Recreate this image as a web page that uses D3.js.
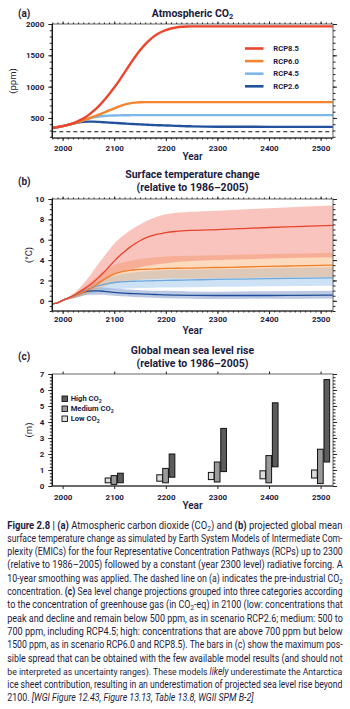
<!DOCTYPE html>
<html>
<head>
<meta charset="utf-8">
<script src="https://cdn.jsdelivr.net/npm/d3@7"></script>
<style>
  body { margin: 0; background: #fff; }
  svg { display: block; font-family: Roboto, "Open Sans", sans-serif; }
</style>
</head>
<body>
<svg id="chart" width="350" height="709"></svg>
<script>
// ---- (a) atmospheric CO2, ppm
const co2Years = [1980,1990,2000,2010,2020,2030,2040,2050,2060,2070,2080,2090,2100,2110,2120,2130,2140,2150,2160,2170,2180,2190,2200,2210,2220,2230,2240,2250,2300,2400,2524];
const co2Rcp85 = [339,354,369,390,415,449,490,545,612,690,780,880,985,1100,1225,1350,1470,1580,1675,1755,1820,1868,1902,1928,1945,1955,1960,1962,1962,1962,1962];
const co2Rcp60 = [339,354,369,389,410,433,460,490,520,552,586,620,652,685,712,732,745,751,752,752,752,752,752,752,752,752,752,752,752,752,752];
const co2Rcp45 = [339,354,369,389,411,435,461,487,510,524,532,537,540,542,543,544,545,545,545,545,545,545,545,545,545,545,545,545,545,545,545];
const co2Rcp26 = [339,354,369,389,409,425,437,442,441,437,432,426,421,416,411,406,402,398,394,390,386,383,380,377,374,371,368,366,360,358,358];
const preIndustrial = 280;

// ---- (b) surface temperature change, degC
const tYears = [1980,1990,2000,2010,2020,2030,2040,2050,2060,2070,2080,2090,2100,2110,2120,2130,2140,2150,2160,2170,2180,2190,2200,2220,2250,2300,2350,2400,2450,2524];
const tRcp85 = [-0.3,-0.2,0.05,0.25,0.5,0.8,1.1,1.45,1.85,2.3,2.8,3.35,3.9,4.4,4.85,5.25,5.6,5.9,6.15,6.35,6.5,6.6,6.7,6.82,6.92,7.0,7.1,7.2,7.28,7.4];
const tRcp60 = [-0.3,-0.2,0.05,0.25,0.45,0.65,0.85,1.1,1.4,1.75,2.1,2.4,2.65,2.8,2.92,3.0,3.05,3.08,3.1,3.12,3.14,3.16,3.18,3.2,3.22,3.27,3.32,3.38,3.43,3.5];
const tRcp45 = [-0.3,-0.2,0.05,0.25,0.45,0.7,0.95,1.15,1.35,1.5,1.62,1.72,1.8,1.85,1.88,1.9,1.92,1.93,1.95,1.96,1.98,1.99,2.0,2.02,2.05,2.1,2.14,2.18,2.21,2.25];
const tRcp26 = [-0.3,-0.2,0.05,0.25,0.45,0.65,0.85,0.95,0.98,0.97,0.93,0.88,0.82,0.78,0.75,0.72,0.7,0.68,0.66,0.64,0.62,0.6,0.58,0.56,0.54,0.52,0.52,0.52,0.53,0.55];

const bandYears = [2000,2025,2050,2075,2100,2125,2150,2175,2200,2250,2300,2400,2524];
const band85Lo = [0.0,0.35,0.95,1.8,2.55,3.0,3.3,3.55,3.7,3.9,4.0,4.15,4.27];
const band85Hi = [0.1,0.9,2.3,4.0,5.6,6.7,7.5,8.1,8.5,8.75,8.85,9.1,9.35];
const band60Lo = [0.0,0.3,0.75,1.3,1.75,1.95,2.1,2.15,2.2,2.2,2.22,2.28,2.35];
const band60Hi = [0.1,0.75,1.7,2.7,3.5,3.85,4.1,4.25,4.35,4.42,4.47,4.6,4.73];
const band45Lo = [0.0,0.3,0.65,0.95,1.1,1.2,1.25,1.28,1.3,1.33,1.37,1.42,1.47];
const band45Hi = [0.1,0.7,1.5,2.1,2.45,2.7,2.85,2.95,3.0,3.05,3.1,3.2,3.3];
const band26Lo = [0.0,0.3,0.6,0.6,0.5,0.42,0.35,0.3,0.26,0.2,0.17,0.2,0.23];
const band26Hi = [0.1,0.7,1.25,1.3,1.2,1.12,1.05,1.0,0.98,0.92,0.9,0.95,1.0];

// ---- (c) sea level rise ranges, m
const slrYears = [2100,2200,2300,2400,2500];
const lowMin  = [0.2,0.3,0.4,0.45,0.5];
const lowMax  = [0.5,0.7,0.85,0.95,1.0];
const medMin  = [0.1,0.2,0.25,0.2,0.15];
const medMax  = [0.65,1.1,1.5,1.9,2.3];
const highMin = [0.2,0.55,0.9,1.2,1.5];
const highMax = [0.8,2.0,3.6,5.2,6.65];

const rcpNames = ["RCP8.5","RCP6.0","RCP4.5","RCP2.6"];
const rcpColors = ["#ec452d","#f28530","#7db6e8","#22519e"];
const yearTicks = [2000,2100,2200,2300,2400,2500];

const ink = "#1b1b40";
const svg = d3.select("#chart");
const X0 = 52.3, X1 = 333;
const x = d3.scaleLinear().domain([1980, 2524]).range([X0, X1]);
const yA = d3.scaleLinear().domain([180, 2000]).range([138, 24]);
const yB = d3.scaleLinear().domain([-1, 10]).range([311, 199]);
const yC = d3.scaleLinear().domain([0, 7]).range([486, 374]);

function addSubText(sel, main, sub) {
  sel.append("tspan").text(main);
  sel.append("tspan").attr("dy", 2).attr("font-size", "0.7em").text(sub);
}

// frame, ticks and labels for one panel
function drawAxes(y, yMajor, yMinor, xMinor, labelPad, yLabel, yLabelX, yearY) {
  const yb = y.range()[0], yt = y.range()[1];
  const g = svg.append("g");
  g.append("rect").attr("x", X0).attr("y", yt).attr("width", X1 - X0).attr("height", yb - yt)
    .attr("fill", "none").attr("stroke", "#666").attr("stroke-width", 1);

  g.append("g").attr("transform", `translate(${X0},0)`)
    .call(d3.axisLeft(y).tickValues(yMinor).tickSize(2.5).tickFormat(""));
  g.append("g").attr("class", "lab").attr("transform", `translate(${X0},0)`)
    .call(d3.axisLeft(y).tickValues(yMajor).tickSize(4).tickPadding(4).tickFormat(d3.format("d")));
  g.append("g").attr("transform", `translate(${X1},0)`)
    .call(d3.axisRight(y).tickValues(yMinor).tickSize(2.5).tickFormat(""));
  g.append("g").attr("transform", `translate(${X1},0)`)
    .call(d3.axisRight(y).tickValues(yMajor).tickSize(4).tickFormat(""));

  if (xMinor) {
    g.append("g").attr("transform", `translate(0,${yt})`)
      .call(d3.axisTop(x).tickValues(xMinor).tickSize(1.5).tickFormat(""));
    g.append("g").attr("transform", `translate(0,${yb})`)
      .call(d3.axisBottom(x).tickValues(xMinor).tickSize(1.5).tickFormat(""));
  }
  g.append("g").attr("transform", `translate(0,${yt})`)
    .call(d3.axisTop(x).tickValues(yearTicks).tickSize(2.5).tickFormat(""));
  g.append("g").attr("class", "lab").attr("transform", `translate(0,${yb})`)
    .call(d3.axisBottom(x).tickValues(yearTicks).tickSize(3).tickPadding(labelPad).tickFormat(d3.format("d")));

  g.selectAll(".domain").remove();
  g.selectAll(".tick text").filter(function () { return this.textContent === ""; }).remove();
  g.selectAll(".tick line").attr("stroke", "#222");
  g.selectAll(".lab text").attr("font-size", 8).attr("font-weight", "bold").attr("fill", ink)
    .attr("font-family", "Roboto, sans-serif");
  g.append("line").attr("x1", X0).attr("x2", X0).attr("y1", yt).attr("y2", yb)
    .attr("stroke", "#111").attr("stroke-width", 1.3);
  g.append("line").attr("x1", X0).attr("x2", X1).attr("y1", yb).attr("y2", yb)
    .attr("stroke", "#222").attr("stroke-width", 1.2);

  g.append("text").attr("transform", `translate(${yLabelX},${(yt + yb) / 2}) rotate(-90)`)
    .attr("text-anchor", "middle").attr("dy", "0.35em").attr("font-size", 9.5).attr("fill", ink)
    .text(yLabel);
  g.append("text").attr("x", 192.5).attr("y", yearY).attr("text-anchor", "middle")
    .attr("font-size", 10).attr("font-weight", 600).attr("fill", ink).text("Year");
}

function panelTitle(letter, letterY, lines, ys, sub) {
  svg.append("text").attr("x", 18).attr("y", letterY).attr("font-size", 10).attr("font-weight", "bold")
    .attr("fill", ink).text(letter);
  lines.forEach((t, i) => {
    const tx = svg.append("text").attr("x", 192.5).attr("y", ys[i]).attr("text-anchor", "middle")
      .attr("font-size", 10.5).attr("font-weight", "bold").attr("fill", ink);
    if (sub && i === 0) addSubText(tx, t, "2"); else tx.text(t);
  });
}

const minorYears = d3.range(1980, 2525, 10);

// ================= (a)
panelTitle("(a)", 16.5, ["Atmospheric CO"], [16.5], true);
const co2Series = [co2Rcp85, co2Rcp60, co2Rcp45, co2Rcp26];
const curve = d3.line().curve(d3.curveMonotoneX);
svg.append("line").attr("x1", X0).attr("x2", X1).attr("y1", yA(preIndustrial)).attr("y2", yA(preIndustrial))
  .attr("stroke", "#111").attr("stroke-width", 1).attr("stroke-dasharray", "4,3");
[3, 2, 1, 0].forEach(k => {
  svg.append("path")
    .attr("d", curve(co2Years.map((yr, i) => [x(yr), yA(co2Series[k][i])])))
    .attr("fill", "none").attr("stroke", rcpColors[k]).attr("stroke-width", 2.4);
});
drawAxes(yA, d3.range(500, 2001, 500), d3.range(200, 2001, 100), minorYears, 3.9, "(ppm)", 13, 160.3);
rcpNames.forEach((name, i) => {
  const ly = 48.5 + i * 12.6;
  svg.append("line").attr("x1", 245).attr("x2", 263.5).attr("y1", ly).attr("y2", ly)
    .attr("stroke", rcpColors[i]).attr("stroke-width", 2.6);
  svg.append("text").attr("x", 273.3).attr("y", ly).attr("dy", "0.35em").attr("font-size", 7.6)
    .attr("font-weight", "bold").attr("fill", ink).text(name);
});

// ================= (b)
panelTitle("(b)", 184.5, ["Surface temperature change", "(relative to 1986\u20132005)"], [177.5, 191]);
const bandArea = d3.area().curve(d3.curveMonotoneX).x(d => d[0]).y0(d => d[1]).y1(d => d[2]);
const bands = [
  [band26Lo, band26Hi, "#3f64ad", 0.35],
  [band45Lo, band45Hi, "#7fb2e5", 0.38],
  [band60Lo, band60Hi, "#f7a35c", 0.4],
  [band85Lo, band85Hi, "#ef6b5a", 0.4]
];
bands.forEach(([lo, hi, col, op]) => {
  svg.append("path")
    .attr("d", bandArea(bandYears.map((yr, i) => [x(yr), yB(lo[i]), yB(hi[i])])))
    .attr("fill", col).attr("fill-opacity", op);
});
const tSeries = [tRcp85, tRcp60, tRcp45, tRcp26];
const tColors = ["#e8432e", "#f07f2a", "#6fa8dc", "#1f4b99"];
[3, 2, 1, 0].forEach(k => {
  svg.append("path")
    .attr("d", curve(tYears.map((yr, i) => [x(yr), yB(tSeries[k][i])])))
    .attr("fill", "none").attr("stroke", tColors[k]).attr("stroke-width", 1.3);
});
drawAxes(yB, d3.range(0, 11, 2), d3.range(-1, 10.01, 0.5), minorYears, 2.5, "(\u00b0C)", 29, 333.6);

// ================= (c)
panelTitle("(c)", 360, ["Global mean sea level rise", "(relative to 1986\u20132005)"], [354, 367]);
const slrGroups = [
  { name: "Low CO", min: lowMin, max: lowMax, off: -12, fill: "#dcdcdc" },
  { name: "Medium CO", min: medMin, max: medMax, off: -0.5, fill: "#9a9a9a" },
  { name: "High CO", min: highMin, max: highMax, off: 12, fill: "#5c5c5c" }
];
const barW = 11;
slrGroups.forEach(gr => {
  svg.append("g").selectAll("rect").data(slrYears).join("rect")
    .attr("x", d => x(d + gr.off - barW / 2))
    .attr("width", x(barW) - x(0))
    .attr("y", (d, i) => yC(gr.max[i]))
    .attr("height", (d, i) => yC(gr.min[i]) - yC(gr.max[i]))
    .attr("fill", gr.fill).attr("stroke", "#111").attr("stroke-width", 1);
});
drawAxes(yC, d3.range(0, 8, 1), d3.range(0, 7.01, 0.2), null, 4.9, "(m)", 28.5, 509.3);
slrGroups.slice().reverse().forEach((gr, i) => {
  const ly = 399 + i * 10;
  svg.append("rect").attr("x", 62).attr("y", ly - 3).attr("width", 5.5).attr("height", 5.5)
    .attr("fill", gr.fill).attr("stroke", "#111").attr("stroke-width", 0.9);
  const t = svg.append("text").attr("x", 70.7).attr("y", ly + 2.4).attr("font-size", 7.6)
    .attr("font-weight", "bold").attr("fill", ink);
  addSubText(t, gr.name, "2");
});

// ================= caption
const captionLines = [
  "*Figure 2.8 |*  *(a)* Atmospheric carbon dioxide (CO~2~) and *(b)* projected global mean",
  "surface temperature change as simulated by Earth System Models of Intermediate Com-",
  "plexity (EMICs) for the four Representative Concentration Pathways (RCPs) up to 2300",
  "(relative to 1986\u20132005) followed by a constant (year 2300 level) radiative forcing. A",
  "10-year smoothing was applied. The dashed line on (a) indicates the pre-industrial CO~2~",
  "concentration. *(c)* Sea level change projections grouped into three categories according",
  "to the concentration of greenhouse gas (in CO~2~-eq) in 2100 (low: concentrations that",
  "peak and decline and remain below 500 ppm, as in scenario RCP2.6; medium: 500 to",
  "700 ppm, including RCP4.5; high: concentrations that are above 700 ppm but below",
  "1500 ppm, as in scenario RCP6.0 and RCP8.5). The bars in (c) show the maximum pos-",
  "sible spread that can be obtained with the few available model results (and should not",
  "be interpreted as uncertainty ranges). These models _likely_ underestimate the Antarctica",
  "ice sheet contribution, resulting in an underestimation of projected sea level rise beyond",
  "2100. _[WGI Figure 12.43, Figure 13.13, Table 13.8, WGII SPM B-2]_"
];
const capX = 7.3, capW = 335.7, capY0 = 528.5, capStep = 13.3;
const capNodes = captionLines.map((line, li) => {
  const t = svg.append("text").attr("font-size", 10).attr("fill", ink);
  let reset = false;
  line.split(/(\*[^*]+\*|_[^_]+_|~[^~]+~)/).filter(s => s.length).forEach(part => {
    let ts;
    if (part[0] === "~") {
      ts = t.append("tspan").attr("dy", 2).attr("font-size", 7).text(part.slice(1, -1));
      reset = true;
      return;
    }
    if (part[0] === "*") ts = t.append("tspan").attr("font-weight", "bold").text(part.slice(1, -1));
    else if (part[0] === "_") ts = t.append("tspan").attr("font-style", "italic").text(part.slice(1, -1));
    else ts = t.append("tspan").text(part);
    if (reset) { ts.attr("dy", -2); reset = false; }
  });
  return { t, w: t.node().getComputedTextLength(), li };
});
const lastLine = captionLines.length - 1;
const avgScale = d3.mean(capNodes.filter(n => n.li < lastLine), n => capW / n.w);
capNodes.forEach(n => {
  const s = n.li < lastLine ? capW / n.w : avgScale;
  n.t.attr("transform", `translate(${capX},${capY0 + n.li * capStep}) scale(${s},1)`);
});
</script>
</body>
</html>
